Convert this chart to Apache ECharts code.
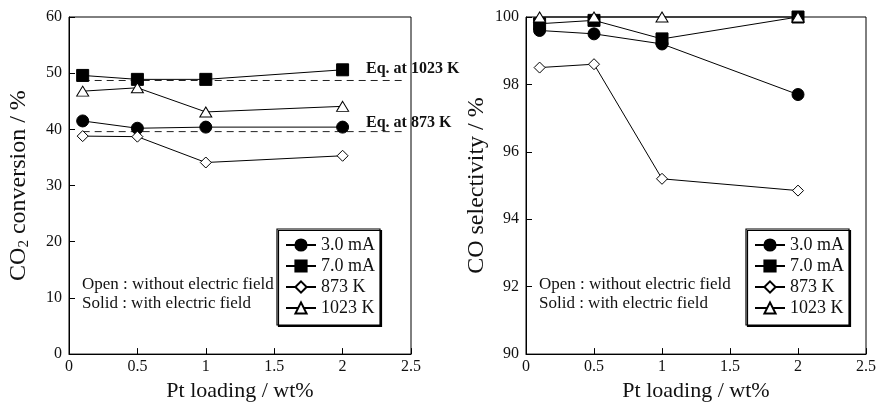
<!DOCTYPE html>
<html>
<head>
<meta charset="utf-8">
<script src="https://cdn.jsdelivr.net/npm/echarts@6/dist/echarts.min.js"></script>
<style>
html,body{margin:0;padding:0;background:#fff;}
#chart{width:879px;height:407px;}
</style>
</head>
<body>
<div id="chart"></div>
<script>
// ---- Data ----
const ptLoading = [0.1, 0.5, 1, 2];
const seriesNames = ['3.0 mA', '7.0 mA', '873 K', '1023 K'];

// Left panel: CO2 conversion / %
const conv_3mA  = [41.5, 40.2, 40.4, 40.4];
const conv_7mA  = [49.6, 48.9, 48.9, 50.6];
const conv_873K = [38.8, 38.7, 34.1, 35.3];
const conv_1023K = [46.8, 47.4, 43.1, 44.1];

// Equilibrium lines
const eqX = [0.1, 2.46];
const eq1023 = 48.7;
const eq873 = 39.6;

// Right panel: CO selectivity / %
const sel_3mA  = [99.6, 99.5, 99.2, 97.7];
const sel_7mA  = [99.8, 99.9, 99.35, 100];
const sel_873K = [98.5, 98.6, 95.2, 94.85];
const sel_1023K = [100, 100, 100, 100];

const xTicks = [0, 0.5, 1, 1.5, 2, 2.5];

const FONT = '"Liberation Serif", "Times New Roman", serif';
const BLACK = '#111';

function pairs(xs, ys) { return xs.map((x, i) => [x, ys[i]]); }

const markerStyles = {
  '3.0 mA': {symbol: 'circle', symbolSize: 12, itemStyle: {color: '#000', borderColor: '#000', borderWidth: 1}},
  '7.0 mA': {symbol: 'rect', symbolSize: 12, itemStyle: {color: '#000', borderColor: '#000', borderWidth: 1}},
  '873 K': {symbol: 'diamond', symbolSize: 11, itemStyle: {color: '#fff', borderColor: '#000', borderWidth: 1}},
  '1023 K': {symbol: 'triangle', symbolSize: [12, 10], itemStyle: {color: '#fff', borderColor: '#000', borderWidth: 1}}
};

function dataSeries(name, values, idx) {
  const m = markerStyles[name];
  return {
    name: name,
    type: 'line',
    xAxisIndex: idx, yAxisIndex: idx,
    data: pairs(ptLoading, values),
    symbol: m.symbol,
    symbolSize: m.symbolSize,
    itemStyle: m.itemStyle,
    lineStyle: {color: '#000', width: 1},
    clip: false,
    animation: false,
    z: 3
  };
}

function eqSeries(y) {
  return {
    type: 'line',
    xAxisIndex: 0, yAxisIndex: 0,
    data: eqX.map(x => [x, y]),
    symbol: 'none',
    lineStyle: {color: '#222', width: 1, type: [7, 5]},
    animation: false,
    silent: true,
    z: 2
  };
}

function xAxis(idx) {
  return {
    type: 'value', gridIndex: idx, min: 0, max: 2.5, interval: 0.5,
    name: 'Pt loading / wt%', nameLocation: 'middle', nameGap: 25,
    nameTextStyle: {fontFamily: FONT, fontSize: 22, color: BLACK},
    axisLine: {show: true, lineStyle: {color: '#000', width: 1}},
    axisTick: {show: true, inside: true, length: 6, lineStyle: {color: '#000'}},
    axisLabel: {fontFamily: FONT, fontSize: 16, color: BLACK, margin: 5},
    splitLine: {show: false}
  };
}

function yAxis(idx, min, max, interval, name, gap) {
  return {
    type: 'value', gridIndex: idx, min: min, max: max, interval: interval,
    name: name, nameLocation: 'middle', nameGap: gap, nameRotate: 90,
    nameTextStyle: {fontFamily: FONT, fontSize: 24, color: BLACK,
      rich: {sub: {fontFamily: FONT, fontSize: 15, color: BLACK, verticalAlign: 'bottom', padding: [11, 0, 0, 0]}}},
    axisLine: {show: true, lineStyle: {color: '#000', width: 1}},
    axisTick: {show: true, inside: true, length: 6, lineStyle: {color: '#000'}},
    axisLabel: {fontFamily: FONT, fontSize: 16, color: BLACK, margin: 7},
    splitLine: {show: false}
  };
}

function legend(left) {
  return {
    data: seriesNames,
    orient: 'vertical',
    left: left, top: 229,
    padding: [7, 5, 8, 8],
    itemWidth: 30, itemHeight: 14, itemGap: 3,
    backgroundColor: '#fff',
    borderColor: '#000', borderWidth: 1.2, borderRadius: 0,
    shadowColor: '#000', shadowBlur: 0, shadowOffsetX: 1.5, shadowOffsetY: 1.5,
    textStyle: {fontFamily: FONT, fontSize: 18, color: BLACK, lineHeight: 18},
    selectedMode: false
  };
}

function note(left, top, text) {
  return {type: 'text', left: left, top: top,
    style: {text: text, fontFamily: FONT, fontSize: 17, fill: BLACK}};
}
function eqLabel(left, top, text) {
  return {type: 'text', left: left, top: top, z: 10,
    style: {text: text, fontFamily: FONT, fontSize: 16, fontWeight: 'bold', fill: BLACK}};
}

const chart = echarts.init(document.getElementById('chart'), null, {renderer: 'canvas'});
chart.setOption({
  backgroundColor: '#fff',
  animation: false,
  grid: [
    {left: 69, top: 17, width: 342, height: 341, show: true, borderColor: '#000', borderWidth: 1, backgroundColor: 'transparent'},
    {left: 526, top: 17, width: 342, height: 341, show: true, borderColor: '#000', borderWidth: 1, backgroundColor: 'transparent'}
  ],
  xAxis: [xAxis(0), xAxis(1)],
  yAxis: [
    yAxis(0, 0, 60, 10, 'CO{sub|2} conversion / %', 37),
    yAxis(1, 90, 100, 2, 'CO selectivity / %', 37)
  ],
  legend: [legend(277), legend(746)],
  graphic: [
    note(82, 276, 'Open : without electric field'),
    note(82, 295, 'Solid : with electric field'),
    note(539, 276, 'Open : without electric field'),
    note(539, 295, 'Solid : with electric field'),
    eqLabel(366, 61, 'Eq. at 1023 K'),
    eqLabel(366, 115, 'Eq. at 873 K')
  ],
  series: [
    eqSeries(eq1023),
    eqSeries(eq873),
    dataSeries('3.0 mA', conv_3mA, 0),
    dataSeries('7.0 mA', conv_7mA, 0),
    dataSeries('873 K', conv_873K, 0),
    dataSeries('1023 K', conv_1023K, 0),
    dataSeries('3.0 mA', sel_3mA, 1),
    dataSeries('7.0 mA', sel_7mA, 1),
    dataSeries('873 K', sel_873K, 1),
    dataSeries('1023 K', sel_1023K, 1)
  ]
});
</script>
</body>
</html>
